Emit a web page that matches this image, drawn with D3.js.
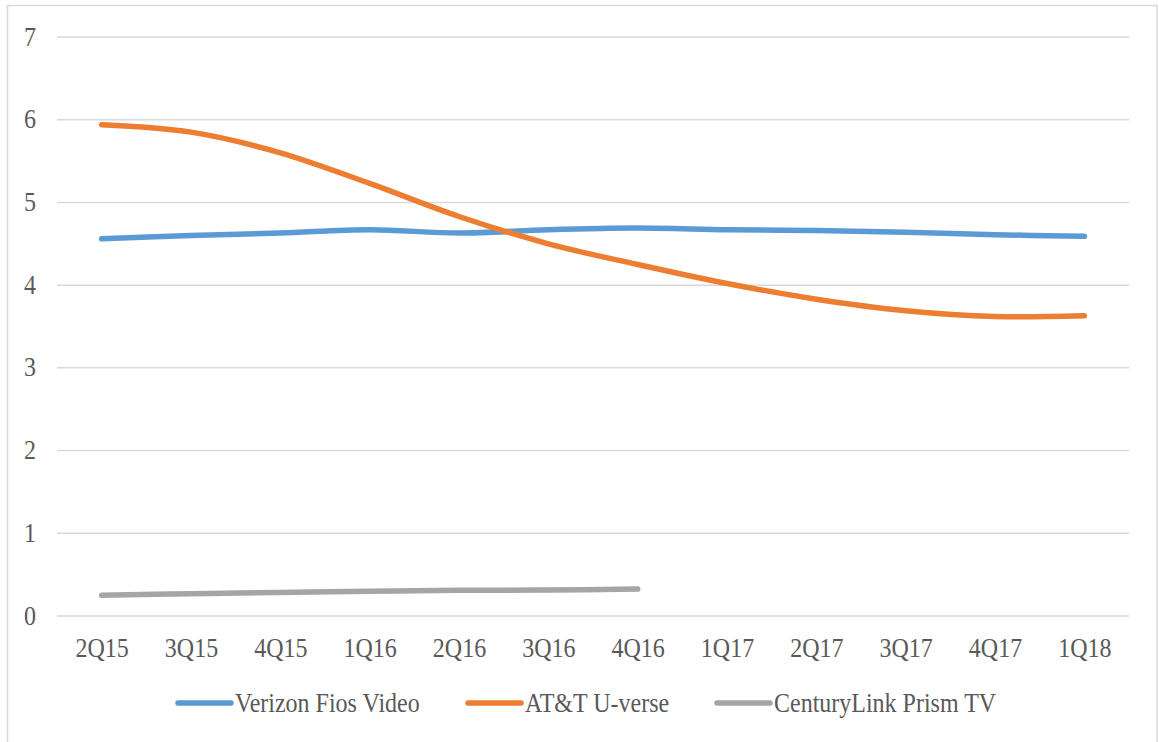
<!DOCTYPE html>
<html><head><meta charset="utf-8">
<script src="https://cdn.jsdelivr.net/npm/d3@7"></script>
<style>body{margin:0;background:#fff}svg{display:block}</style>
</head><body>
<svg id="c" width="1159" height="742"></svg>
<script>
const categories = ["2Q15","3Q15","4Q15","1Q16","2Q16","3Q16","4Q16","1Q17","2Q17","3Q17","4Q17","1Q18"];
const verizon = [4.56,4.60,4.63,4.67,4.63,4.67,4.69,4.67,4.66,4.64,4.61,4.59];
const att = [5.94,5.85,5.60,5.23,4.83,4.50,4.25,4.02,3.83,3.69,3.62,3.63];
const centurylink = [0.25,0.27,0.285,0.30,0.31,0.315,0.325];
const yTicks = [0,1,2,3,4,5,6,7];
const seriesNames = ["Verizon Fios Video","AT&T U-verse","CenturyLink Prism TV"];
const colors = ["#5B9BD5","#ED7D31","#A5A5A5"];

const svg = d3.select("#c");
const font = "'Liberation Serif','Times New Roman',serif";
const textColor = "#595959";
const sy = 1.12;

svg.append("rect").attr("x",7.5).attr("y",5.5).attr("width",1149.5).attr("height",760)
  .attr("fill","none").attr("stroke","#d9d9d9").attr("stroke-width",1.5);

const x = d3.scalePoint().domain(categories).range([57,1129]).padding(0.5);
const y = d3.scaleLinear().domain([0,7]).range([616,37]);

// gridlines
svg.append("g").selectAll("line").data(yTicks).join("line")
  .attr("x1",57).attr("x2",1129).attr("y1",d=>y(d)).attr("y2",d=>y(d))
  .attr("stroke","#d9d9d9").attr("stroke-width",1.5);

// y axis labels
const yAxis = svg.append("g").attr("transform","translate(36,0)")
  .call(d3.axisLeft(y).tickValues(yTicks).tickFormat(d3.format("d")).tickSize(0).tickPadding(0));
yAxis.select(".domain").remove();
yAxis.selectAll("text").attr("x",0).attr("dy",0).attr("y",0)
  .attr("transform",`translate(0,8) scale(1,${sy})`)
  .attr("font-family",font).attr("font-size",24).attr("fill",textColor).attr("text-anchor","end");

// x axis labels
const xAxis = svg.append("g").attr("transform","translate(0,657)")
  .call(d3.axisBottom(x).tickSize(0).tickPadding(0));
xAxis.select(".domain").remove();
xAxis.selectAll("text").attr("y",0).attr("dy",0)
  .attr("transform",`scale(1,${sy})`)
  .attr("font-family",font).attr("font-size",24).attr("fill",textColor);

const line = d3.line().x((d,i)=>x(categories[i])).y(d=>y(d)).curve(d3.curveCatmullRom.alpha(0));
[verizon, att, centurylink].forEach((s,k)=>{
  svg.append("path").datum(s).attr("d",line).attr("fill","none")
    .attr("stroke",colors[k]).attr("stroke-width",5.5).attr("stroke-linecap","round").attr("stroke-linejoin","round");
});

// legend
const legX = [178,468,717];
const lg = svg.append("g");
seriesNames.forEach((n,k)=>{
  lg.append("line").attr("x1",legX[k]).attr("x2",legX[k]+53).attr("y1",703).attr("y2",703)
    .attr("stroke",colors[k]).attr("stroke-width",5.5).attr("stroke-linecap","round");
  lg.append("text").text(n).attr("transform",`translate(${legX[k]+57},712) scale(1,${sy})`)
    .attr("font-family",font).attr("font-size",24).attr("fill",textColor);
});
</script>
</body></html>
